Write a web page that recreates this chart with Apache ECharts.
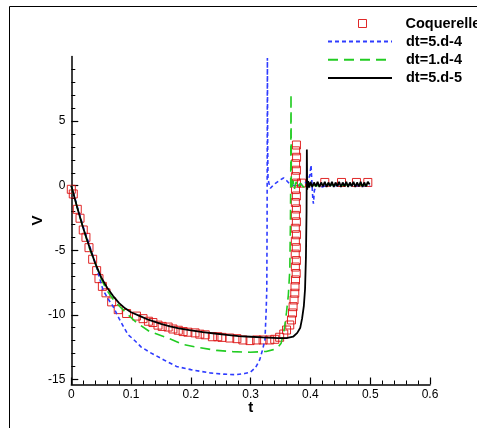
<!DOCTYPE html>
<html>
<head>
<meta charset="utf-8">
<script src="https://cdn.jsdelivr.net/npm/echarts@6/dist/echarts.min.js"></script>
<style>
  html, body { margin: 0; padding: 0; background: #fff; }
  #chart { width: 477px; height: 428px; }
</style>
</head>
<body>
<div id="chart"></div>
<script>
// Reference solution (Coquerelle): time and velocity samples
const refT = [0, 0.0033, 0.01, 0.0146, 0.02, 0.0245, 0.0296, 0.0357, 0.0424, 0.0463,
  0.052, 0.058, 0.0675, 0.0785, 0.0925, 0.109, 0.12, 0.129, 0.1365, 0.145, 0.152, 0.162,
  0.17, 0.179, 0.187, 0.195, 0.207, 0.215, 0.224, 0.236, 0.245, 0.252, 0.265, 0.277,
  0.287, 0.299, 0.31, 0.3208, 0.332, 0.3403, 0.3485, 0.3554, 0.36, 0.3654, 0.3683,
  0.37, 0.371, 0.3726, 0.3738, 0.3742, 0.375, 0.3762, 0.3748, 0.3765, 0.3746, 0.3764,
  0.3748, 0.3766, 0.3747, 0.3765, 0.3749, 0.3766, 0.3748, 0.3765, 0.3750, 0.3767,
  0.3749, 0.3766, 0.3751, 0.3768, 0.3752, 0.3766,
  0.385, 0.424, 0.452, 0.477, 0.496];
const refV = [-0.28, -0.64, -1.83, -2.52, -3.43, -4.0, -4.8, -5.7, -6.58, -7.2,
  -7.8, -8.3, -9.0, -9.6, -9.9, -10.1, -10.3, -10.5, -10.6, -10.8, -10.9, -10.95,
  -11.1, -11.2, -11.3, -11.35, -11.4, -11.5, -11.55, -11.7, -11.7, -11.75, -11.8, -11.85,
  -11.95, -12.0, -11.95, -11.95, -11.95, -11.9, -11.74, -11.49, -11.18, -10.79, -10.4,
  -9.86, -9.37, -8.85, -8.33, -7.82, -7.3, -6.8, -6.3, -5.8, -5.3, -4.8,
  -4.3, -3.8, -3.3, -2.8, -2.3, -1.8, -1.3, -0.8, -0.3, 0.2,
  0.7, 1.2, 1.7, 2.2, 2.7, 3.15,
  0.2, 0.25, 0.25, 0.25, 0.25];

// dt=5.d-4
const blueT = [0, 0.01, 0.02, 0.031, 0.042, 0.053, 0.062, 0.07, 0.08, 0.087, 0.095, 0.104,
  0.117, 0.131, 0.155, 0.176, 0.2, 0.232, 0.255, 0.276, 0.29, 0.299, 0.308, 0.315, 0.32,
  0.324, 0.326, 0.327, 0.3275, 0.328, 0.3285, 0.329, 0.3305, 0.333, 0.337, 0.342, 0.348,
  0.355, 0.36, 0.366, 0.375, 0.385, 0.395, 0.399, 0.401, 0.4025, 0.404, 0.405, 0.4065,
  0.41, 0.42, 0.43, 0.44, 0.46, 0.48, 0.5];
const blueV = [0, -1.6, -3.2, -4.7, -6.3, -8.07, -8.8, -9.36, -10.3, -10.9, -11.55, -11.9,
  -12.5, -12.9, -13.5, -14.0, -14.25, -14.5, -14.6, -14.64, -14.55, -14.46, -14.1, -13.5, -12.7,
  -11.9, -9.6, -8.0, -3.0, 9.9, 3.0, 0.6, 0.2, -0.2, 0.0, 0.2, 0.4,
  0.6, 0.4, 0.1, 0.0, 0.1, 0.3, 0.8, 1.6, 0.2, -1.0, -1.4, -0.4,
  0.1, -0.1, 0.1, 0.0, 0.1, 0.0, 0.0];

// dt=1.d-4
const greenT = [0, 0.01, 0.02, 0.03, 0.04, 0.05, 0.059, 0.07, 0.081, 0.095, 0.109, 0.131,
  0.159, 0.187, 0.215, 0.243, 0.27, 0.299, 0.326, 0.338, 0.346, 0.351, 0.356, 0.36, 0.363,
  0.3655, 0.3665, 0.367, 0.3675, 0.368, 0.369, 0.371, 0.373, 0.376, 0.379, 0.383, 0.388,
  0.395, 0.41, 0.43, 0.45, 0.47, 0.5];
const greenV = [0, -1.7, -3.3, -4.8, -6.0, -7.2, -8.07, -8.8, -9.36, -10.0, -10.6, -11.3,
  -11.75, -12.3, -12.55, -12.76, -12.85, -12.9, -12.84, -12.7, -12.5, -12.2, -11.2, -9.8, -8.5,
  -6.5, -3.0, 0.0, 7.1, 0.5, -0.3, 0.4, -0.3, 0.3, -0.2, 0.2, -0.1,
  0.1, 0.0, 0.1, 0.0, 0.1, 0.0];

// dt=5.d-5
const blackT = [0, 0.01, 0.02, 0.03, 0.04, 0.05, 0.06, 0.07, 0.08, 0.09, 0.1, 0.115, 0.13,
  0.15, 0.165, 0.18, 0.2, 0.22, 0.24, 0.26, 0.28, 0.3, 0.32, 0.346, 0.36, 0.371, 0.378,
  0.383, 0.386, 0.389, 0.391, 0.3925, 0.3935, 0.394, 0.3945,
  0.396, 0.398, 0.4, 0.403, 0.406, 0.409, 0.412, 0.415, 0.418, 0.421, 0.424, 0.427, 0.43,
  0.433, 0.436, 0.439, 0.442, 0.445, 0.448, 0.451, 0.454, 0.457, 0.46, 0.463, 0.466, 0.469,
  0.472, 0.475, 0.478, 0.481, 0.484, 0.487, 0.49, 0.493, 0.496, 0.499];
const blackV = [0, -1.7, -3.3, -4.7, -6.0, -7.1, -7.9, -8.55, -9.1, -9.5, -9.8, -10.1, -10.4,
  -10.7, -10.9, -11.05, -11.2, -11.35, -11.45, -11.55, -11.65, -11.7, -11.75, -11.8, -11.8, -11.7, -11.4,
  -11.0, -10.3, -9.3, -8.0, -5.5, -2.0, 2.8, -0.3,
  0.35, -0.15, 0.3, -0.1, 0.25, -0.05, 0.3, -0.1, 0.25, -0.05, 0.3, -0.1, 0.25,
  -0.05, 0.3, -0.1, 0.25, -0.05, 0.3, -0.1, 0.25, -0.05, 0.3, -0.1, 0.25, -0.05,
  0.3, -0.1, 0.25, -0.05, 0.3, -0.1, 0.25, -0.05, 0.3, 0.1];

// Axis tick values
const xTicks = [0, 0.1, 0.2, 0.3, 0.4, 0.5, 0.6];
const yMajorTicks = [-15, -10, -5, 0, 5];
const yMinorTicks = [-14, -13, -12, -11, -9, -8, -7, -6, -4, -3, -2, -1, 1, 2, 3, 4, 6, 7, 8, 9];

const zip = (t, v) => t.map((x, i) => [x, v[i]]);
const FONT = 'Liberation Sans, Arial, Helvetica, sans-serif';
const RED = '#dd1111';

const chart = echarts.init(document.getElementById('chart'), null, { renderer: 'canvas' });

const yCommon = {
  type: 'value', min: -15.4, max: 10, position: 'left',
  splitLine: { show: false }
};

// legend entries for lines: hide the marker dot, keep only the stroke sample
const noMarker = { color: 'transparent', borderWidth: 0, opacity: 0 };
const legendText = { fontSize: 14.5, fontWeight: 'bold', color: '#000', fontFamily: FONT };

chart.setOption({
  animation: false,
  backgroundColor: '#fff',
  grid: { left: 71.3, right: 47, top: 56.6, bottom: 43.5, containLabel: false },
  graphic: [{
    type: 'rect', silent: true,
    shape: { x: 9.5, y: 6.5, width: 1000, height: 1000 },
    style: { fill: 'none', stroke: '#000', lineWidth: 1 }
  }],
  legend: [
    {
      // square marker entry
      orient: 'vertical', left: 358, top: 16, padding: 0,
      itemWidth: 8, itemHeight: 8,
      textStyle: Object.assign({ padding: [0, 0, 0, 34] }, legendText),
      data: [{ name: 'Coquerelle', icon: 'rect',
        itemStyle: { color: 'transparent', borderColor: RED, borderWidth: 1 } }]
    },
    {
      // line sample entries
      orient: 'vertical', left: 327, top: 34, padding: 0,
      itemWidth: 64, itemHeight: 8, itemGap: 3.3,
      textStyle: Object.assign({ padding: [0, 0, 0, 9] }, legendText),
      data: [
        { name: 'dt=5.d-4', itemStyle: noMarker },
        { name: 'dt=1.d-4', itemStyle: noMarker },
        { name: 'dt=5.d-5', itemStyle: noMarker }
      ]
    }
  ],
  xAxis: {
    type: 'value', min: 0, max: 0.6, interval: 0.1,
    name: 't', nameLocation: 'middle', nameGap: 16, nameMoveOverlap: false,
    nameTextStyle: { fontSize: 15, fontWeight: 'bold', color: '#000', fontFamily: FONT },
    axisLine: { onZero: false, lineStyle: { color: '#000', width: 1.5 } },
    axisTick: { inside: true, length: 7, lineStyle: { color: '#000', width: 1.2 } },
    minorTick: { show: true, splitNumber: 5, length: 4, lineStyle: { color: '#000', width: 1 } },
    axisLabel: { margin: 4, fontSize: 12, color: '#000', fontFamily: FONT,
      customValues: xTicks, formatter: v => String(v) },
    splitLine: { show: false }
  },
  yAxis: [
    Object.assign({}, yCommon, {
      name: 'V', nameLocation: 'middle', nameGap: 26, nameMoveOverlap: false,
      nameTextStyle: { fontSize: 15, fontWeight: 'bold', color: '#000', fontFamily: FONT },
      axisLine: { show: true, onZero: false, lineStyle: { color: '#000', width: 1.5 } },
      axisTick: { show: true, inside: true, length: 7, customValues: yMajorTicks,
        lineStyle: { color: '#000', width: 1.2 } },
      axisLabel: { margin: 6, fontSize: 12, color: '#000', fontFamily: FONT, customValues: yMajorTicks }
    }),
    Object.assign({}, yCommon, {
      axisLine: { show: false, onZero: false },
      axisTick: { show: true, inside: true, length: 4, customValues: yMinorTicks,
        lineStyle: { color: '#000', width: 1 } },
      axisLabel: { show: false }
    })
  ],
  series: [
    {
      name: 'Coquerelle', type: 'scatter', z: 1,
      symbol: 'rect', symbolSize: 8,
      itemStyle: { color: 'transparent', borderColor: RED, borderWidth: 1, opacity: 0.9 },
      data: zip(refT, refV)
    },
    {
      name: 'dt=5.d-4', type: 'line', z: 2, symbol: 'none', showSymbol: false,
      lineStyle: { color: '#2f3cff', width: 1.6, type: [4, 3] },
      itemStyle: { color: '#2f3cff' },
      data: zip(blueT, blueV)
    },
    {
      name: 'dt=1.d-4', type: 'line', z: 3, symbol: 'none', showSymbol: false,
      lineStyle: { color: '#22cc22', width: 1.6, type: [10, 6] },
      itemStyle: { color: '#22cc22' },
      data: zip(greenT, greenV)
    },
    {
      name: 'dt=5.d-5', type: 'line', z: 4, symbol: 'none', showSymbol: false,
      lineStyle: { color: '#000', width: 1.8, type: 'solid' },
      itemStyle: { color: '#000' },
      data: zip(blackT, blackV)
    }
  ]
});
</script>
</body>
</html>
